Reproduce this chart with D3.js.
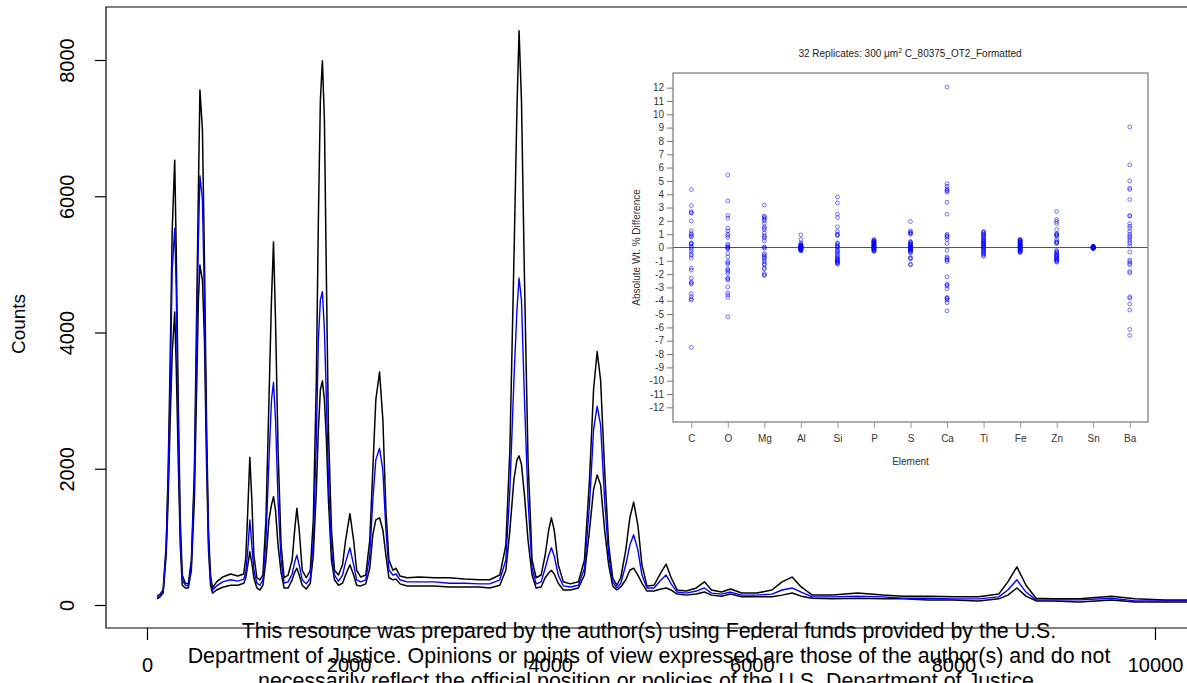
<!DOCTYPE html>
<html>
<head>
<meta charset="utf-8">
<script src="https://cdn.jsdelivr.net/npm/d3@7"></script>
<style>
  body { margin: 0; background: #fff; }
  svg { display: block; font-family: "Liberation Sans", Arial, sans-serif; }
</style>
</head>
<body>
<svg id="chart" width="1187" height="683"></svg>
<script>
// ---- Spectrum: energy (eV) and counts for the upper envelope, mean and lower envelope ----
const energy = [100,130,160,190,210,230,250,275,290,310,330,350,380,410,440,470,490,510,525,550,570,590,610,630,650,690,750,830,900,960,980,1000,1020,1040,1060,1090,1120,1150,1180,1210,1235,1255,1275,1300,1330,1360,1400,1440,1465,1487,1510,1540,1580,1620,1650,1680,1700,1720,1740,1760,1780,1800,1830,1860,1900,1940,1970,2013,2050,2080,2120,2170,2210,2240,2270,2307,2340,2370,2400,2440,2470,2510,2580,2700,2850,3000,3150,3300,3400,3500,3560,3600,3640,3670,3691,3715,3745,3780,3820,3860,3910,3950,3985,4012,4040,4080,4130,4200,4280,4340,4390,4430,4466,4500,4540,4580,4620,4660,4700,4750,4790,4828,4870,4910,4960,5030,5100,5150,5200,5260,5350,5450,5530,5600,5700,5790,5900,6050,6200,6300,6400,6490,6600,6800,7050,7300,7500,7750,8000,8250,8450,8540,8630,8720,8820,9000,9250,9570,9800,10100,10400,10700,10900];

const countsMax = [130,160,220,880,1980,3600,5500,6530,5210,3010,1250,440,320,310,660,1980,4040,6090,7560,6970,5060,2720,1100,440,250,340,410,455,425,455,700,1390,2170,1540,730,400,370,440,1250,3010,4480,5330,4180,2280,880,400,440,660,1100,1420,1100,510,400,510,1250,3300,5650,7410,7990,7120,4770,2570,1100,510,440,590,950,1340,950,510,410,440,950,1980,3010,3420,2720,1390,660,510,540,425,400,410,400,400,380,370,370,440,880,2280,5060,7270,8430,7410,4770,2130,660,400,440,730,1100,1280,1100,590,340,310,340,660,1840,3160,3720,3300,1980,880,400,290,400,810,1280,1510,1170,590,280,290,480,600,400,220,205,250,340,220,190,235,175,175,220,340,410,265,145,145,175,145,130,130,120,120,160,340,560,290,100,90,90,130,90,75,75,75,75];

const countsMean = [100,130,190,810,1840,3160,4920,5530,4620,2570,1030,370,290,280,590,1840,3600,5360,6300,5950,4480,2420,950,370,220,280,340,370,350,380,480,810,1250,880,510,320,290,370,950,2130,3010,3270,2720,1540,660,320,340,455,630,730,590,370,310,400,950,2420,3890,4480,4600,4040,3010,1840,810,440,350,440,630,840,590,370,340,370,730,1540,2130,2300,1980,1100,510,440,455,370,340,340,340,320,320,310,310,370,660,1690,3300,4330,4800,4480,3010,1540,540,310,340,540,730,840,720,440,280,265,290,540,1470,2570,2920,2640,1540,730,340,250,320,590,880,1030,810,440,250,250,370,440,310,190,175,205,250,175,160,190,145,145,160,220,250,190,120,120,130,120,100,100,90,90,120,220,370,190,75,75,75,100,60,60,60,60,60];

const countsMin = [90,120,175,730,1540,2720,3700,4300,3500,2130,880,290,250,250,510,1540,3010,4480,4990,4770,3890,2130,810,290,175,220,260,290,290,320,400,590,780,620,400,250,220,290,660,1250,1470,1590,1390,880,480,250,250,370,480,540,440,290,235,320,730,1690,2570,3160,3290,3010,2420,1540,660,370,290,320,440,590,440,290,280,310,540,1030,1250,1280,1100,730,400,370,380,310,280,280,280,265,265,265,250,290,510,1100,1840,2130,2190,2060,1610,950,440,250,265,400,470,510,455,320,220,220,250,440,1100,1690,1910,1760,1100,590,280,220,265,370,510,540,440,320,205,205,235,250,220,160,145,160,190,145,130,160,120,120,120,145,175,130,100,90,100,90,90,75,75,60,90,145,250,130,60,60,45,75,45,45,45,45,45];

const xTicks = [0, 2000, 4000, 6000, 8000, 10000];
const yTicks = [0, 2000, 4000, 6000, 8000];

// ---- Replicate differences per element (absolute wt. %) ----
const elements = ["C","O","Mg","Al","Si","P","S","Ca","Ti","Fe","Zn","Sn","Ba"];
const diffC  = [4.35,3.15,2.7,2.6,2.6,2.0,1.25,1.05,0.95,0.85,0.8,0.35,0.25,0.1,0.0,-0.15,-0.3,-0.5,-0.6,-0.8,-1.55,-1.7,-2.3,-2.6,-2.65,-2.75,-3.45,-3.7,-3.85,-3.95,-7.5,0.3];
const diffO  = [5.45,3.5,2.4,2.2,1.45,1.25,1.0,0.9,0.75,0.25,0.15,0.05,0.0,-0.1,-0.45,-0.7,-1.05,-1.15,-1.25,-1.6,-1.7,-1.8,-1.95,-2.3,-2.35,-2.45,-2.95,-3.4,-3.55,-3.75,-5.2,-0.05];
const diffMg = [3.2,2.35,2.3,2.2,2.1,2.0,1.8,1.55,1.35,1.1,0.9,0.8,0.7,0.5,0.05,0.0,-0.05,-0.45,-0.55,-0.65,-0.8,-0.95,-1.1,-1.25,-1.3,-1.55,-1.6,-1.95,-2.05,-2.1,1.45,-0.75];
const diffAl = [0.95,0.6,0.35,0.2,0.15,0.1,0.08,0.05,0.03,0.0,-0.02,-0.05,-0.08,-0.1,-0.12,-0.15,-0.18,-0.2,-0.25,0.12,0.02,-0.03,0.07,-0.07,0.18,-0.22,0.0,0.04,-0.04,0.1,-0.1,0.25];
const diffSi = [3.8,3.35,2.5,2.25,1.55,1.2,1.0,0.95,0.9,0.35,0.3,0.2,0.1,0.05,-0.15,-0.25,-0.4,-0.5,-0.6,-0.7,-0.8,-0.85,-0.9,-0.95,-1.0,-1.05,-1.1,-1.15,-1.2,-1.25,-0.3,0.0];
const diffP  = [0.6,0.55,0.5,0.45,0.4,0.35,0.3,0.25,0.2,0.15,0.1,0.05,0.0,-0.05,-0.1,-0.15,-0.2,-0.25,-0.3,0.48,0.38,0.28,0.18,0.08,-0.02,-0.12,-0.22,0.42,0.32,0.12,0.02,-0.08];
const diffS  = [1.95,1.25,1.15,1.1,1.0,0.45,0.4,0.35,0.25,0.2,0.1,0.05,0.0,-0.05,-0.1,-0.15,-0.2,-0.25,-0.3,-0.75,-0.8,-0.85,-1.25,-1.3,0.15,-0.35,1.05,0.3,-0.4,-0.02,0.03,-0.12];
const diffCa = [12.05,4.8,4.6,4.4,4.3,4.15,3.4,2.5,1.0,0.9,0.75,0.6,0.3,-0.2,-0.7,-0.8,-0.95,-1.05,-2.2,-2.75,-2.9,-3.1,-3.75,-3.85,-3.95,-4.15,-4.75,4.25,-0.9,-3.8,0.85,-2.8];
const diffTi = [1.2,1.1,1.0,0.9,0.8,0.7,0.6,0.5,0.4,0.3,0.2,0.1,0.0,-0.1,-0.2,-0.3,-0.4,-0.5,-0.6,-0.65,1.15,0.95,0.75,0.55,0.35,0.15,-0.05,-0.25,-0.45,0.45,0.25,0.05];
const diffFe = [0.62,0.55,0.5,0.45,0.4,0.35,0.3,0.25,0.2,0.15,0.1,0.05,0.0,-0.05,-0.1,-0.15,-0.2,-0.25,-0.3,-0.35,-0.38,0.58,0.42,0.32,0.22,0.12,0.02,-0.08,-0.18,-0.28,0.48,0.08];
const diffZn = [2.7,2.1,1.95,1.8,1.35,1.0,0.95,0.85,0.6,0.45,0.4,0.3,-0.2,-0.3,-0.4,-0.5,-0.55,-0.6,-0.7,-0.75,-0.8,-0.85,-0.9,-1.0,-1.05,-1.1,0.9,-0.65,-0.35,1.05,-0.95,0.35];
const diffSn = [0.1,0.08,0.06,0.05,0.04,0.03,0.02,0.01,0.0,-0.01,-0.02,-0.03,-0.04,-0.05,-0.06,-0.08,0.07,0.05,0.03,0.01,-0.01,-0.03,-0.05,0.02,0.0,-0.02,0.04,-0.04,0.06,-0.06,0.0,0.01];
const diffBa = [9.05,6.2,5.0,4.45,4.35,3.6,2.4,2.35,1.8,1.6,1.45,1.2,1.0,0.85,0.75,0.6,0.45,0.3,0.1,-0.35,-0.95,-1.05,-1.2,-1.3,-1.8,-1.9,-3.7,-3.8,-4.25,-4.7,-6.15,-6.6];
const insetYTicks = d3.range(-12, 13);

const disclaimer = [
  "This resource was prepared by the author(s) using Federal funds provided by the U.S.",
  "Department of Justice. Opinions or points of view expressed are those of the author(s) and do not",
  "necessarily reflect the official position or policies of the U.S. Department of Justice."
];

// ---------------------------------------------------------------------------
const svg = d3.select("#chart");
const W = 1187, H = 683;
const box = { left: 106, top: 7, bottom: 628, right: 1200 };

const x = d3.scaleLinear().domain([0, 10000]).range([147, 1155]);
const y = d3.scaleLinear().domain([0, 8000]).range([605, 60]);

svg.append("defs").append("clipPath").attr("id", "plotClip")
  .append("rect").attr("x", box.left).attr("y", box.top)
  .attr("width", W - box.left).attr("height", box.bottom - box.top);

// spectrum lines
const spectrum = energy.map((e, i) => ({ e, hi: countsMax[i], mu: countsMean[i], lo: countsMin[i] }));
const lineOf = key => d3.line().x(d => x(d.e)).y(d => y(d[key]));
const lines = svg.append("g").attr("clip-path", "url(#plotClip)");
lines.append("path").datum(spectrum).attr("d", lineOf("hi"))
  .attr("fill", "none").attr("stroke", "#000").attr("stroke-width", 1.5).attr("stroke-linejoin", "round");
lines.append("path").datum(spectrum).attr("d", lineOf("lo"))
  .attr("fill", "none").attr("stroke", "#000").attr("stroke-width", 1.5).attr("stroke-linejoin", "round");
lines.append("path").datum(spectrum).attr("d", lineOf("mu"))
  .attr("fill", "none").attr("stroke", "#0000ff").attr("stroke-width", 1.4).attr("stroke-linejoin", "round");

// plot frame (open on the right, running off the page)
svg.append("path")
  .attr("d", `M${box.right},${box.top}H${box.left}V${box.bottom}H${box.right}`)
  .attr("fill", "none").attr("stroke", "#000").attr("stroke-width", 1.2);

// y axis
const yAxis = svg.append("g").attr("transform", `translate(${box.left},0)`)
  .call(d3.axisLeft(y).tickValues(yTicks).tickSize(11).tickFormat(d3.format("d")));
yAxis.select(".domain").remove();
yAxis.selectAll(".tick line").attr("stroke", "#000").attr("stroke-width", 1.2);
yAxis.selectAll(".tick text")
  .attr("x", null).attr("dy", null)
  .attr("transform", "translate(-32,0) rotate(-90)")
  .attr("text-anchor", "middle")
  .attr("font-size", 20).attr("font-family", "Liberation Sans, Arial, sans-serif").attr("fill", "#000");

svg.append("text").attr("transform", "translate(25,324) rotate(-90)")
  .attr("text-anchor", "middle").attr("font-size", 19).text("Counts");

// x axis
const xAxis = svg.append("g").attr("transform", `translate(0,${box.bottom})`)
  .call(d3.axisBottom(x).tickValues(xTicks).tickSize(12).tickFormat(d3.format("d")));
xAxis.select(".domain").remove();
xAxis.selectAll(".tick line").attr("stroke", "#000").attr("stroke-width", 1.2);
xAxis.selectAll(".tick text")
  .attr("y", 44).attr("dy", null)
  .attr("font-size", 20).attr("font-family", "Liberation Sans, Arial, sans-serif").attr("fill", "#000");

// ---- Inset: replicate differences by element ----
const inset = svg.append("g");
inset.append("rect").attr("x", 615).attr("y", 36).attr("width", 550).attr("height", 438).attr("fill", "#fff");

const ib = { left: 673, right: 1148, top: 73, bottom: 422 };
const ix = d3.scaleLinear().domain([0.5, elements.length + 0.5]).range([ib.left, ib.right]);
const iy = d3.scaleLinear().domain([-13.1, 13.1]).range([ib.bottom, ib.top]);

const diffs = [diffC, diffO, diffMg, diffAl, diffSi, diffP, diffS, diffCa, diffTi, diffFe, diffZn, diffSn, diffBa];
const pts = [];
diffs.forEach((arr, i) => arr.forEach(v => pts.push({ k: i + 1, v })));

inset.append("line").attr("x1", ib.left).attr("x2", ib.right)
  .attr("y1", iy(0)).attr("y2", iy(0)).attr("stroke", "#555").attr("stroke-width", 1);

inset.append("g").selectAll("circle").data(pts).join("circle")
  .attr("cx", d => ix(d.k)).attr("cy", d => iy(d.v)).attr("r", 1.9)
  .attr("fill", "none").attr("stroke", "#0000ff").attr("stroke-opacity", 0.6).attr("stroke-width", 0.9);

inset.append("rect").attr("x", ib.left).attr("y", ib.top)
  .attr("width", ib.right - ib.left).attr("height", ib.bottom - ib.top)
  .attr("fill", "none").attr("stroke", "#777").attr("stroke-width", 1.2);

const iyAxis = inset.append("g").attr("transform", `translate(${ib.left},0)`)
  .call(d3.axisLeft(iy).tickValues(insetYTicks).tickSize(6).tickPadding(3).tickFormat(d3.format("d")));
iyAxis.select(".domain").remove();
iyAxis.selectAll(".tick line").attr("stroke", "#777");
iyAxis.selectAll(".tick text").attr("font-size", 10).attr("fill", "#333")
  .attr("font-family", "Liberation Sans, Arial, sans-serif").text(d => d < 0 ? "-" + Math.abs(d) : d);

const ixAxis = inset.append("g").attr("transform", `translate(0,${ib.bottom})`)
  .call(d3.axisBottom(ix).tickValues(d3.range(1, elements.length + 1)).tickSize(6).tickPadding(7)
    .tickFormat(k => elements[k - 1]));
ixAxis.select(".domain").remove();
ixAxis.selectAll(".tick line").attr("stroke", "#999");
ixAxis.selectAll(".tick text").attr("font-size", 10).attr("fill", "#333")
  .attr("font-family", "Liberation Sans, Arial, sans-serif");

inset.append("text").attr("x", (ib.left + ib.right) / 2).attr("y", 465)
  .attr("text-anchor", "middle").attr("font-size", 10).attr("fill", "#333").text("Element");

inset.append("text").attr("transform", `translate(640,${(ib.top + ib.bottom) / 2}) rotate(-90)`)
  .attr("text-anchor", "middle").attr("font-size", 10).attr("fill", "#333").text("Absolute Wt. % Difference");

const title = inset.append("text").attr("x", 910).attr("y", 57)
  .attr("text-anchor", "middle").attr("font-size", 10).attr("fill", "#222");
title.append("tspan").text("32 Replicates: 300 \u03BCm");
title.append("tspan").attr("font-size", 7).attr("dy", -4).text("2");
title.append("tspan").attr("dy", 4).text(" C_80375_OT2_Formatted");

// ---- Funding statement ----
svg.append("g").selectAll("text").data(disclaimer).join("text")
  .attr("x", 649).attr("y", (d, i) => 638 + i * 25)
  .attr("text-anchor", "middle").attr("font-size", 21.4).attr("fill", "#000")
  .text(d => d);
</script>
</body>
</html>
